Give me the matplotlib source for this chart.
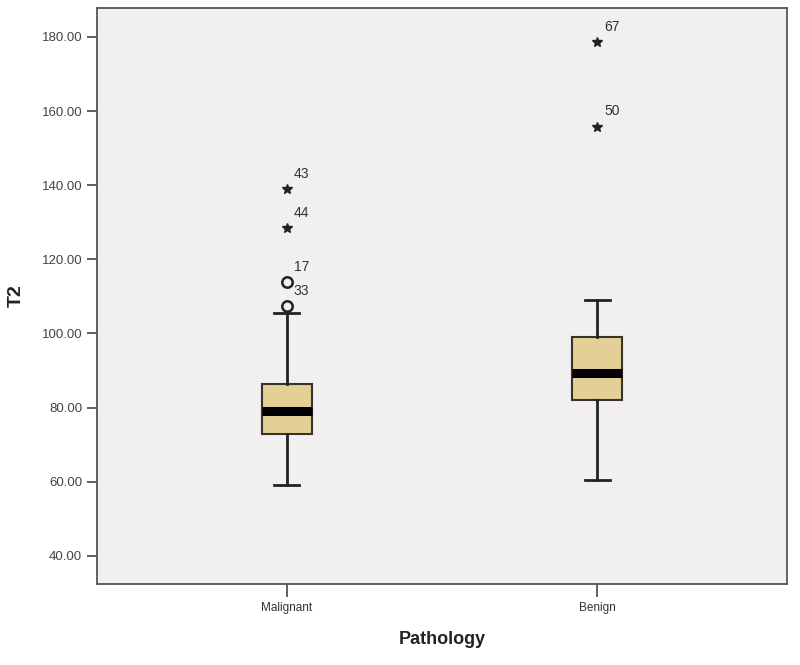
import matplotlib
matplotlib.use('Agg')
import matplotlib.pyplot as plt

plt.rcParams['font.family'] = ['Liberation Sans', 'DejaVu Sans']

groups = ['Malignant', 'Benign']
q1 = [73.0, 82.0]
med = [79.0, 89.3]
q3 = [86.5, 99.0]
wlo = [59.0, 60.5]
whi = [105.5, 109.0]

# outliers: (group index, value, case id, kind)
out_grp = [0, 0, 0, 0, 1, 1]
out_val = [107.3, 113.8, 128.5, 139.0, 155.8, 178.5]
out_id = ['33', '17', '44', '43', '50', '67']
out_kind = ['o', 'o', '*', '*', '*', '*']

yticks = [40, 60, 80, 100, 120, 140, 160, 180]

fig = plt.figure(figsize=(8, 6.65), dpi=100)
ax = fig.add_axes([0.121, 0.122, 0.863, 0.866])
ax.set_facecolor('#f1efef')

stats = []
for i in range(len(groups)):
    stats.append({'label': groups[i], 'q1': q1[i], 'med': med[i], 'q3': q3[i],
                  'whislo': wlo[i], 'whishi': whi[i], 'fliers': []})

ax.bxp(stats, positions=[1, 2], widths=0.16, patch_artist=True, showfliers=False,
       boxprops=dict(facecolor='#e4d096', edgecolor='#3a3328', linewidth=1.5),
       medianprops=dict(color='black', linewidth=6.5, solid_capstyle='butt'),
       whiskerprops=dict(color='#222222', linewidth=2),
       capprops=dict(color='#222222', linewidth=2), capwidths=0.08)

for g, v, lab, k in zip(out_grp, out_val, out_id, out_kind):
    x = g + 1
    if k == 'o':
        ax.plot(x, v, 'o', ms=7.5, mfc='none', mec='#222222', mew=1.8)
    else:
        ax.plot(x, v, '*', ms=7, color='#222222')
    ax.annotate(lab, (x, v), xytext=(5, 8), textcoords='offset points',
                fontsize=10, color='#333333')

ax.set_xlim(0.389, 2.611)
ax.set_ylim(32.45, 187.8)
ax.set_yticks(yticks)
ax.set_yticklabels(['%.2f' % t for t in yticks])
ax.set_xticks([1, 2])
ax.set_xticklabels(groups)
ax.tick_params(axis='y', length=7, width=1.2, color='#444444', labelsize=9.5, labelcolor='#444444')
ax.tick_params(axis='x', length=9, width=1.2, color='#444444', labelsize=8.5, labelcolor='#333333', pad=4)
for s in ax.spines.values():
    s.set_color('#555555')
    s.set_linewidth(1.3)

ax.set_xlabel('Pathology', fontsize=13, fontweight='bold', color='#222222', labelpad=12)
ax.set_ylabel('T2', fontsize=14, fontweight='bold', color='#222222', labelpad=12)

fig.savefig('out.png', dpi=100, facecolor='white')
